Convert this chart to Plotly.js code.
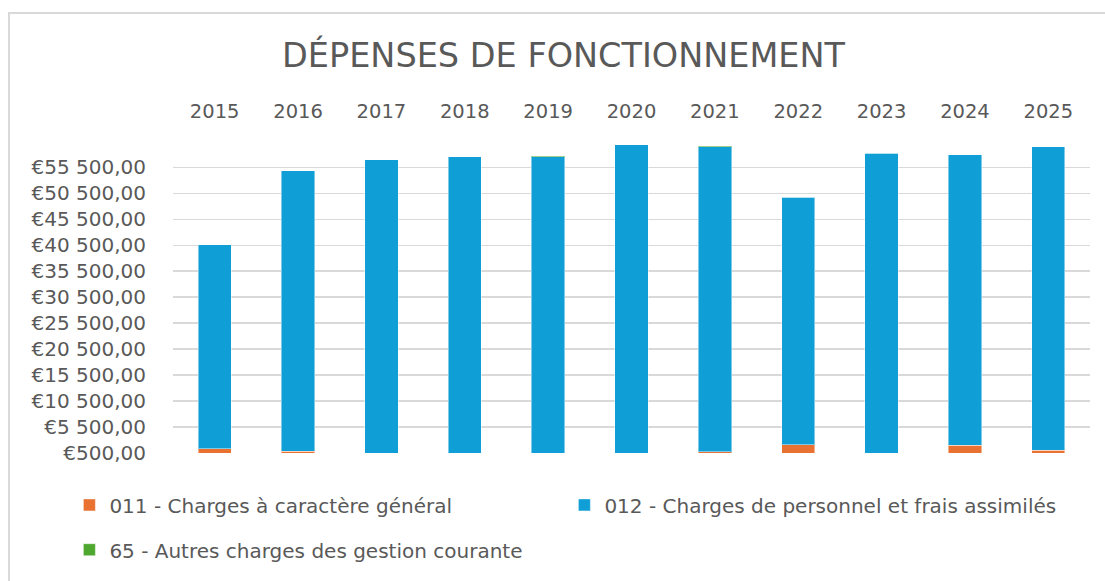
<!DOCTYPE html>
<html><head><meta charset="utf-8">
<script src="https://cdn.plot.ly/plotly-3.0.1.min.js"></script>
<style>
html,body{margin:0;padding:0;background:#fff;overflow:hidden}
#frame{position:absolute;left:8px;top:12px;width:1120px;height:600px;border-left:2px solid #d9d9d9;border-top:2px solid #d9d9d9;}
#chart{position:absolute;left:0;top:0;width:1105px;height:581px}
</style></head><body>
<div id="frame"></div><div id="chart"></div>
<script>
const years = ['2015','2016','2017','2018','2019','2020','2021','2022','2023','2024','2025'];
const charges011 = [1300, 800, 300, 200, 200, 200, 700, 2100, 300, 1950, 1000];
const charges012 = [39300, 54050, 56700, 57300, 57360, 59650, 58800, 47600, 57950, 56000, 58450];
const charges65 = [0, 0, 0, 0, 200, 0, 200, 0, 0, 0, 0];
const seriesNames = ['011 - Charges à caractère général', '012 - Charges de personnel et frais assimilés', '65 - Autres charges des gestion courante'];
const seriesColors = ['#E97132', '#0F9ED5', '#4EA72E'];
const tickValues = [500, 5500, 10500, 15500, 20500, 25500, 30500, 35500, 40500, 45500, 50500, 55500, 60000];
const axisMax = 60000;

function euro(v){
  const s = String(Math.round(v)).replace(/\B(?=(\d{3})+(?!\d))/g, ' ');
  return '€' + s + ',00';
}
const tickText = tickValues.map(v => v === axisMax ? '' : euro(v));

const FONT = 'DejaVu Sans, sans-serif';
const GREY = '#595959';
const lineStyle = {color: 'rgba(255,255,255,0.45)', width: 1};

const traces = [
  {type:'bar', x: years, y: charges011, name: seriesNames[0], marker:{color: seriesColors[0], line: lineStyle}, legend:'legend'},
  {type:'bar', x: years, y: charges012, name: seriesNames[1], marker:{color: seriesColors[1], line: lineStyle}, legend:'legend'},
  {type:'bar', x: years, y: charges65, name: seriesNames[2], marker:{color: seriesColors[2], line: lineStyle}, legend:'legend2'}
];

const layout = {
  width: 1105, height: 581,
  margin: {l: 173, r: 15, t: 144, b: 123, pad: 0},
  paper_bgcolor: 'rgba(0,0,0,0)', plot_bgcolor: 'rgba(0,0,0,0)',
  barmode: 'stack', bargap: 0.6,
  font: {family: FONT, color: GREY, size: 19},
  title: {text: 'DÉPENSES DE FONCTIONNEMENT', font: {family: FONT, size: 33.5, color: GREY}, x: 0.51, xref: 'container', xanchor: 'center', y: 0.905, yref: 'container', yanchor: 'middle'},
  xaxis: {side: 'top', type: 'category', showgrid: false, zeroline: false, showline: false, ticks: '', ticklabelstandoff: 21, tickfont: {size: 19.5, color: GREY, family: FONT}},
  yaxis: {range: [500, axisMax], tickmode: 'array', tickvals: tickValues, ticktext: tickText, showgrid: true, gridcolor: '#d9d9d9', gridwidth: 1.5, zeroline: false, showline: false, ticks: '', ticklabelstandoff: 26, tickfont: {size: 20, color: GREY, family: FONT}},
  showlegend: true,
  legend: {orientation: 'h', x: -0.113, xanchor: 'left', y: -0.168, yanchor: 'middle', traceorder: 'normal', entrywidthmode: 'pixels', entrywidth: 450, font: {size: 20, color: GREY, family: FONT}, bgcolor: 'rgba(0,0,0,0)'},
  legend2: {orientation: 'h', x: -0.113, xanchor: 'left', y: -0.313, yanchor: 'middle', font: {size: 20, color: GREY, family: FONT}, bgcolor: 'rgba(0,0,0,0)'}
};

Plotly.newPlot('chart', traces, layout, {displayModeBar: false, staticPlot: true});
</script>
</body></html>
